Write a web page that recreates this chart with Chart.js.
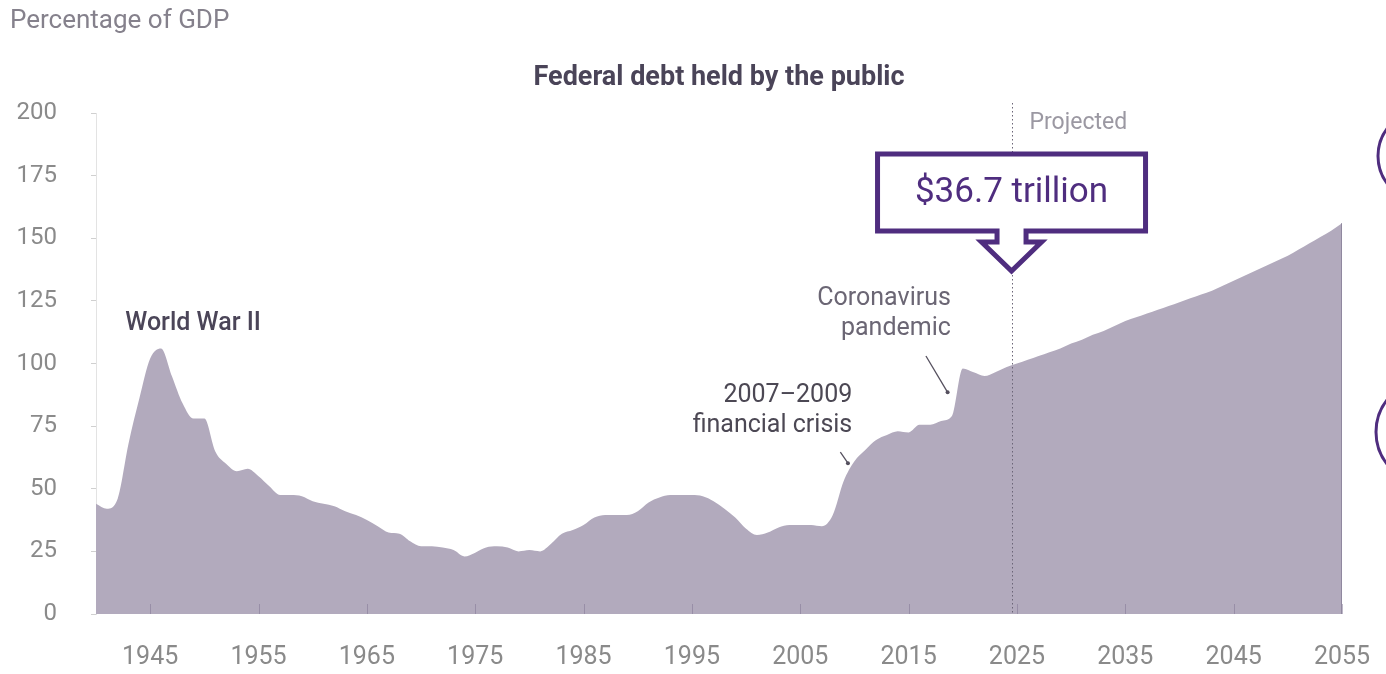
<!DOCTYPE html>
<html>
<head>
<meta charset="utf-8">
<title>Federal debt held by the public</title>
<script src="https://cdn.jsdelivr.net/npm/chart.js@4.4.1/dist/chart.umd.min.js"></script>
<style>
    body { margin: 0; background: #fff; }
    #wrap { width: 1386px; height: 674px; position: relative; }
</style>
</head>
<body>
<div id="wrap"><canvas id="debtChart" width="1386" height="674"></canvas></div>
<script>
// Data: federal debt held by the public, percentage of GDP
const firstYear = 1940;
const actualDebt = [
    44, 42, 46, 68, 86, 102, 106, 95, 84, 78,           // 1940s
    78, 65, 60, 57, 58, 55, 51, 47.5, 47.5, 47,         // 1950s
    45, 44, 43, 41, 39.5, 37.5, 35, 32.5, 32, 29,       // 1960s
    27, 27, 26.5, 25.5, 23, 24.5, 26.5, 27, 26.5, 25,   // 1970s
    25.5, 25, 28, 32, 33.5, 35.5, 38.5, 39.5, 39.5, 39.5, // 1980s
    41, 44.5, 46.5, 47.5, 47.5, 47.5, 47, 45, 42, 38.5, // 1990s
    34, 31.5, 32.5, 34.5, 35.5, 35.5, 35.5, 35, 39.5, 53, // 2000s
    61, 65.5, 69.5, 71.5, 73, 72.5, 75.5, 75.5, 77, 79, // 2010s
    98, 96.5, 95, 96.5, 98.5                            // 2020-2024
];
const projectedDebt = [
    100, 101.5, 103, 104.5, 106, 108, 109.5, 111.5, 113, 115,     // 2025-2034
    117, 118.5, 120, 121.5, 123, 124.5, 126, 127.5, 129, 131,     // 2035-2044
    133, 135, 137, 139, 141, 143, 145.5, 148, 150.5, 153, 156     // 2045-2055
];
const debtShare = actualDebt.concat(projectedDebt);
const projectionStart = 2024.5;

const xTickYears = [1945, 1955, 1965, 1975, 1985, 1995, 2005, 2015, 2025, 2035, 2045, 2055];
const yTickValues = [0, 25, 50, 75, 100, 125, 150, 175, 200];

const fontFamily = 'Roboto, "Liberation Sans", sans-serif';
const purple = '#4f2d7f';

// Text notes placed in data coordinates (year, percent)
const notes = [
    { lines: ['World War II'], year: 1942.7, value: 116, align: 'left', color: '#4b4558', weight: '500' },
    { lines: ['2007\u20132009', 'financial crisis'], year: 2009.8, value: 87, align: 'right', color: '#4c4854', weight: '400' },
    { lines: ['Coronavirus', 'pandemic'], year: 2018.9, value: 126, align: 'right', color: '#6b6674', weight: '400' }
];
const pointers = [
    { from: [2008.7, 64.6], to: [2009.4, 60.2] },
    { from: [2016.6, 103], to: [2018.6, 88.5] }
];

const overlay = {
    id: 'overlay',
    afterDatasetsDraw(chart) {
        const { ctx, chartArea: area, scales: { x, y } } = chart;
        ctx.save();

        // small year ticks inside the filled area
        ctx.strokeStyle = 'rgba(125, 114, 145, 0.5)';
        ctx.lineWidth = 1;
        ctx.beginPath();
        xTickYears.forEach(yr => {
            const px = Math.round(x.getPixelForValue(yr)) + 0.5;
            ctx.moveTo(px, area.bottom);
            ctx.lineTo(px, area.bottom - 10);
        });
        ctx.stroke();

        // right edge of the filled area
        const endX = Math.round(x.getPixelForValue(2055)) - 0.5;
        ctx.strokeStyle = 'rgba(140, 132, 155, 0.9)';
        ctx.beginPath();
        ctx.moveTo(endX, y.getPixelForValue(debtShare[debtShare.length - 1]));
        ctx.lineTo(endX, area.bottom);
        ctx.stroke();

        // projection divider
        const divX = Math.round(x.getPixelForValue(projectionStart)) + 0.5;
        ctx.strokeStyle = '#6b6577';
        ctx.setLineDash([1.5, 2.5]);
        ctx.beginPath();
        ctx.moveTo(divX, area.top - 10);
        ctx.lineTo(divX, area.bottom);
        ctx.stroke();
        ctx.setLineDash([]);

        ctx.fillStyle = '#9b98a2';
        ctx.font = `23px ${fontFamily}`;
        ctx.textAlign = 'left';
        ctx.textBaseline = 'middle';
        ctx.fillText('Projected', divX + 17, area.top + 10);

        // headers
        ctx.fillStyle = '#85818c';
        ctx.font = `26px ${fontFamily}`;
        ctx.fillText('Percentage of GDP', 10, 21);

        ctx.fillStyle = '#4a4458';
        ctx.font = `bold 27px ${fontFamily}`;
        ctx.textAlign = 'center';
        ctx.fillText('Federal debt held by the public', (area.left + area.right) / 2, 78);

        // event notes
        notes.forEach(n => {
            ctx.fillStyle = n.color;
            ctx.font = `${n.weight} 25px ${fontFamily}`;
            ctx.textAlign = n.align;
            const px = x.getPixelForValue(n.year);
            const py = y.getPixelForValue(n.value);
            n.lines.forEach((line, i) => ctx.fillText(line, px, py + i * 30));
        });

        ctx.strokeStyle = '#55505e';
        ctx.fillStyle = '#55505e';
        ctx.lineWidth = 1.3;
        pointers.forEach(p => {
            const x1 = x.getPixelForValue(p.from[0]), y1 = y.getPixelForValue(p.from[1]);
            const x2 = x.getPixelForValue(p.to[0]), y2 = y.getPixelForValue(p.to[1]);
            ctx.beginPath();
            ctx.moveTo(x1, y1);
            ctx.lineTo(x2, y2);
            ctx.stroke();
            ctx.beginPath();
            ctx.arc(x2, y2, 2, 0, Math.PI * 2);
            ctx.fill();
        });

        // callout pointing at the projection line
        const tipX = x.getPixelForValue(projectionStart);
        const tipY = 271;
        const boxL = tipX - 134, boxR = tipX + 134, boxT = 154, boxB = 231;
        ctx.beginPath();
        ctx.moveTo(boxL, boxT);
        ctx.lineTo(boxR, boxT);
        ctx.lineTo(boxR, boxB);
        ctx.lineTo(tipX + 14.5, boxB);
        ctx.lineTo(tipX + 14.5, boxB + 11);
        ctx.lineTo(tipX + 30, boxB + 11);
        ctx.lineTo(tipX, tipY);
        ctx.lineTo(tipX - 30, boxB + 11);
        ctx.lineTo(tipX - 14.5, boxB + 11);
        ctx.lineTo(tipX - 14.5, boxB);
        ctx.lineTo(boxL, boxB);
        ctx.closePath();
        ctx.fillStyle = '#fff';
        ctx.fill();
        ctx.strokeStyle = purple;
        ctx.lineWidth = 5;
        ctx.lineJoin = 'miter';
        ctx.stroke();

        ctx.fillStyle = purple;
        ctx.font = `35px ${fontFamily}`;
        ctx.textAlign = 'center';
        ctx.fillText('$36.7 trillion', tipX, (boxT + boxB) / 2 + 1);

        // partial circles at the right edge
        ctx.lineWidth = 3;
        ctx.beginPath();
        ctx.arc(1424, 156, 46, 0, Math.PI * 2);
        ctx.stroke();
        ctx.beginPath();
        ctx.arc(1428, 432, 52, 0, Math.PI * 2);
        ctx.stroke();

        ctx.restore();
    }
};

new Chart(document.getElementById('debtChart'), {
    type: 'line',
    data: {
        datasets: [{
            label: 'Debt held by the public',
            data: debtShare.map((v, i) => ({ x: firstYear + i, y: v })),
            fill: 'origin',
            backgroundColor: '#b2aabd',
            borderWidth: 0,
            pointRadius: 0,
            cubicInterpolationMode: 'monotone'
        }]
    },
    options: {
        responsive: false,
        animation: false,
        layout: { padding: { top: 113, right: 44, left: 0, bottom: 0 } },
        plugins: {
            legend: { display: false },
            tooltip: { enabled: false }
        },
        scales: {
            x: {
                type: 'linear',
                min: firstYear,
                max: 2055,
                afterFit: s => { s.height = 60; s.paddingLeft = 0; s.paddingRight = 0; },
                afterBuildTicks: s => { s.ticks = xTickYears.map(v => ({ value: v })); },
                grid: { drawOnChartArea: false, drawTicks: false },
                border: { display: false },
                ticks: {
                    padding: 29,
                    autoSkip: false,
                    maxRotation: 0,
                    color: '#8a8a8a',
                    font: { family: fontFamily, size: 25 },
                    callback: v => String(v)
                }
            },
            y: {
                min: 0,
                max: 200,
                afterFit: s => { s.width = 96; },
                afterBuildTicks: s => { s.ticks = yTickValues.map(v => ({ value: v })); },
                grid: { drawOnChartArea: false, drawTicks: true, tickLength: 5, color: '#d0d0d0' },
                border: { display: true, color: '#e3e3e3' },
                ticks: {
                    padding: 34,
                    color: '#8a8a8a',
                    font: { family: fontFamily, size: 24 }
                }
            }
        }
    },
    plugins: [overlay]
});
</script>
</body>
</html>
